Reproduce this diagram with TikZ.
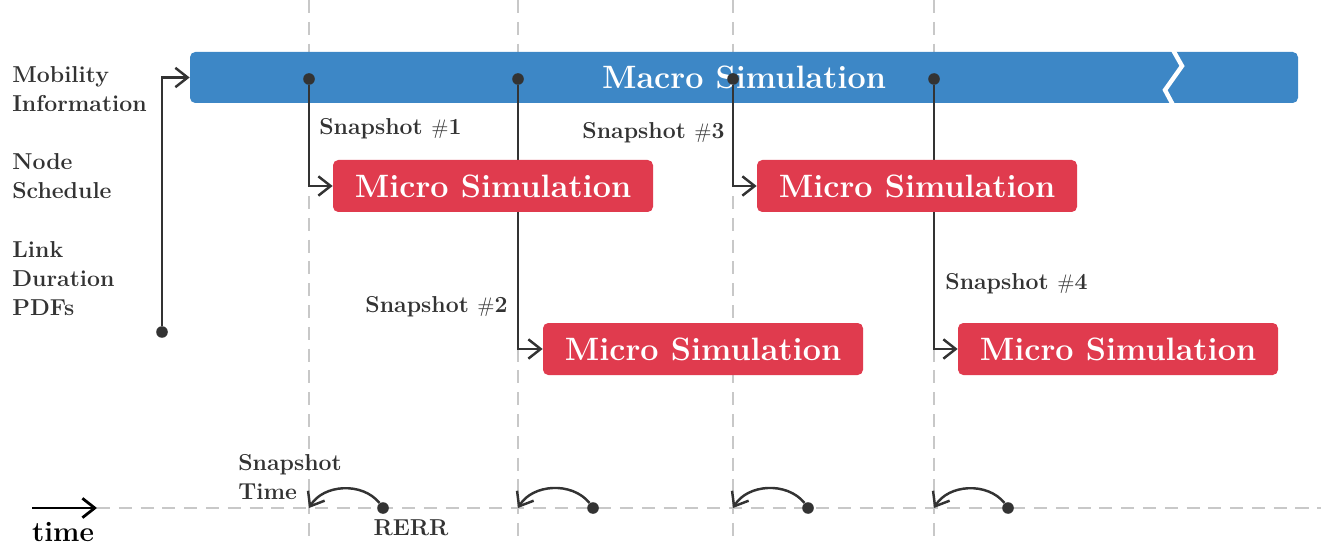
\documentclass[tikz,border=0pt]{standalone}
\usetikzlibrary{arrows.meta}
\definecolor{macroblue}{RGB}{61,135,198}
\definecolor{microred}{RGB}{224,59,78}
\definecolor{inkgray}{RGB}{51,51,51}
\definecolor{guidegray}{RGB}{200,200,200}
\pgfdeclarelayer{background}
\pgfdeclarelayer{links}
\pgfsetlayers{background,links,main}
\tikzset{
  macro/.style={fill=macroblue, rounded corners=3pt, text=white, inner sep=0pt,
    font=\bfseries\fontsize{18.4}{20}\selectfont, minimum width=22.16cm, minimum height=1.02cm},
  micro/.style={fill=microred, rounded corners=3pt, text=white, inner sep=0pt,
    font=\bfseries\fontsize{18.4}{20}\selectfont, minimum width=6.4cm, minimum height=1.04cm},
  link/.style={inkgray, line width=1.4pt, -{Straight Barb[length=7pt,width=11pt]}},
  guide/.style={guidegray, line width=1.1pt, dash pattern=on 7.4pt off 5pt},
  dot/.style={circle, fill=inkgray, inner sep=0pt, minimum size=6.6pt},
  lbl/.style={text=inkgray, font=\bfseries\fontsize{13.1}{16.5}\selectfont, align=left, inner sep=0pt},
}
\begin{document}
\begin{tikzpicture}
\useasboundingbox (0,0) rectangle (26.42,-10.92);
\begin{pgfonlayer}{background}
\foreach \x in {6.18,10.36,14.66,18.68}
  \draw[guide] (\x,0) -- (\x,-10.8);
\draw[guide] (1.94,-10.16) -- (26.42,-10.16);
\node[macro] (macro) at (14.88,-1.55) {Macro Simulation};
\draw[white, line width=2.5pt] (23.46,-1.0) -- (23.64,-1.32) -- (23.3,-1.8) -- (23.46,-2.1);
\end{pgfonlayer}

\node[micro] (m1) at (9.86,-3.72) {Micro Simulation};
\node[micro] (m2) at (14.06,-6.98) {Micro Simulation};
\node[micro] (m3) at (18.34,-3.72) {Micro Simulation};
\node[micro] (m4) at (22.36,-6.98) {Micro Simulation};

\node[dot] (in) at (3.24,-6.64) {};
\node[dot] (s1) at (6.18,-1.58) {};
\node[dot] (s2) at (10.36,-1.58) {};
\node[dot] (s3) at (14.66,-1.58) {};
\node[dot] (s4) at (18.68,-1.58) {};

\begin{pgfonlayer}{links}
\draw[link] (in) |- (macro.west);
\draw[link] (s1) |- (m1.west);
\draw[link] (s2) |- (m2.west);
\draw[link] (s3) |- (m3.west);
\draw[link] (s4) |- (m4.west);
\end{pgfonlayer}

\node[lbl, anchor=west] (mob) at (0.24,-1.78) {Mobility\\Information};
\node[lbl, anchor=west] (sched) at (0.24,-3.52) {Node\\Schedule};
\node[lbl, anchor=west] (pdf) at (0.24,-5.58) {Link\\Duration\\PDFs};

\node[lbl, anchor=west] (l1) at (6.38,-2.58) {Snapshot $\#$1};
\node[lbl, anchor=east] (l2) at (10.16,-6.14) {Snapshot $\#$2};
\node[lbl, anchor=east] (l3) at (14.5,-2.66) {Snapshot $\#$3};
\node[lbl, anchor=west] (l4) at (18.9,-5.68) {Snapshot $\#$4};

\coordinate (t0) at (1.94,-10.16);
\coordinate (t1) at (6.18,-10.16);
\coordinate (t2) at (10.36,-10.16);
\coordinate (t3) at (14.66,-10.16);
\coordinate (t4) at (18.68,-10.16);
\node[dot] (r1) at (7.66,-10.16) {};
\node[dot] (r2) at (11.86,-10.16) {};
\node[dot] (r3) at (16.16,-10.16) {};
\node[dot] (r4) at (20.16,-10.16) {};
\draw[link] (r1) to[bend right=55] (t1);
\draw[link] (r2) to[bend right=55] (t2);
\draw[link] (r3) to[bend right=55] (t3);
\draw[link] (r4) to[bend right=55] (t4);

\coordinate (tstart) at (0.64,-10.16);
\draw[black, line width=1.6pt, -{Straight Barb[length=7pt,width=11pt]}] (tstart) -- (t0);
\node[lbl, text=black, font=\bfseries\fontsize{16}{18}\selectfont] (time) at (1.26,-10.64) {time};
\node[lbl] (rerr) at (8.22,-10.56) {RERR};
\node[lbl, anchor=west] (stime) at (4.76,-9.54) {Snapshot\\Time};
\end{tikzpicture}
\end{document}
